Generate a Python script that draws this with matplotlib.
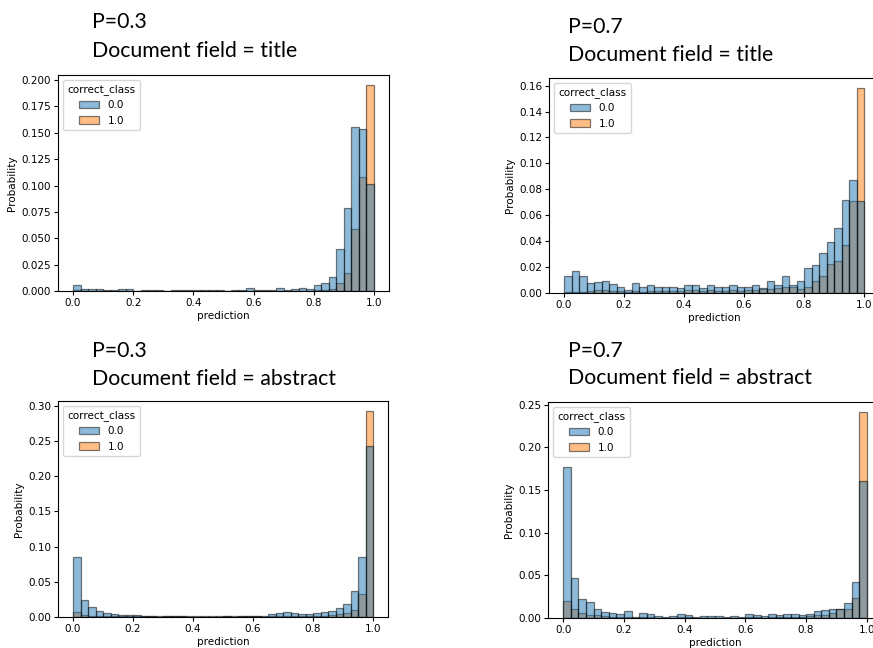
"""Four histograms of model predictions, split by correct_class."""
import matplotlib
matplotlib.use("Agg")
import matplotlib.pyplot as plt
import numpy as np
from matplotlib.patches import Patch

N_BINS = 40
hue_levels = ["0.0", "1.0"]

# P=0.3, title
p3_title_c0 = [0.006, 0.002, 0.002, 0.002, 0.001, 0.0006, 0.002, 0.0015, 0.0003, 0.0013,
               0.0006, 0.0006, 0.0, 0.0005, 0.0005, 0.0005, 0.0005, 0.0005, 0.0005, 0.0005,
               0.0, 0.0005, 0.0005, 0.003, 0.0013, 0.0005, 0.0013, 0.003, 0.001, 0.002,
               0.003, 0.002, 0.006, 0.008, 0.013, 0.040, 0.079, 0.155, 0.154, 0.101]
p3_title_c1 = [0.0005, 0.0002, 0.0002, 0.0002, 0.0001, 0.0001, 0.0002, 0.0001, 0.0, 0.0001,
               0.0001, 0.0001, 0.0, 0.0001, 0.0001, 0.0001, 0.0001, 0.0001, 0.0001, 0.0001,
               0.0, 0.0001, 0.0001, 0.0003, 0.0002, 0.0001, 0.0002, 0.0003, 0.0002, 0.0003,
               0.0004, 0.0004, 0.0008, 0.0010, 0.002, 0.0073, 0.017, 0.059, 0.108, 0.195]

# P=0.7, title
p7_title_c0 = [0.013, 0.017, 0.0135, 0.0075, 0.0085, 0.0095, 0.0067, 0.005, 0.002, 0.0075,
               0.0045, 0.006, 0.005, 0.005, 0.0045, 0.0035, 0.0065, 0.0065, 0.0035, 0.0065,
               0.005, 0.005, 0.006, 0.0045, 0.0045, 0.0065, 0.0035, 0.0095, 0.006, 0.0135,
               0.0065, 0.0095, 0.019, 0.0215, 0.031, 0.0395, 0.050, 0.072, 0.087, 0.071]
p7_title_c1 = [0.0005, 0.001, 0.001, 0.0015, 0.002, 0.002, 0.0015, 0.0015, 0.001, 0.0015,
               0.001, 0.0015, 0.0015, 0.0015, 0.0015, 0.0015, 0.002, 0.002, 0.0015, 0.002,
               0.0015, 0.0015, 0.002, 0.0015, 0.002, 0.002, 0.003, 0.003, 0.0035, 0.0045,
               0.0045, 0.003, 0.005, 0.0095, 0.0135, 0.022, 0.025, 0.037, 0.071, 0.158]

# P=0.3, abstract
p3_abs_c0 = [0.085, 0.024, 0.014, 0.008, 0.005, 0.004, 0.003, 0.0025, 0.0025, 0.002,
             0.002, 0.001, 0.002, 0.002, 0.002, 0.001, 0.001, 0.001, 0.001, 0.001,
             0.002, 0.001, 0.002, 0.002, 0.002, 0.001, 0.004, 0.005, 0.0065, 0.005,
             0.004, 0.004, 0.005, 0.0065, 0.008, 0.0125, 0.019, 0.037, 0.085, 0.243]
p3_abs_c1 = [0.007, 0.003, 0.002, 0.001, 0.001, 0.001, 0.001, 0.001, 0.001, 0.001,
             0.001, 0.0005, 0.001, 0.001, 0.001, 0.0005, 0.0005, 0.0005, 0.0005, 0.0005,
             0.001, 0.0005, 0.001, 0.001, 0.001, 0.0005, 0.001, 0.001, 0.001, 0.001,
             0.001, 0.001, 0.0015, 0.002, 0.003, 0.0045, 0.006, 0.0095, 0.033, 0.292]

# P=0.7, abstract
p7_abs_c0 = [0.177, 0.0465, 0.022, 0.0185, 0.0105, 0.007, 0.006, 0.0045, 0.008, 0.001,
             0.006, 0.0045, 0.0025, 0.001, 0.0025, 0.0045, 0.0035, 0.001, 0.002, 0.002,
             0.002, 0.001, 0.002, 0.001, 0.0045, 0.0035, 0.002, 0.0045, 0.0035, 0.0045,
             0.0045, 0.0035, 0.0045, 0.008, 0.009, 0.010, 0.011, 0.017, 0.042, 0.161]
p7_abs_c1 = [0.020, 0.010, 0.006, 0.004, 0.003, 0.002, 0.0015, 0.001, 0.001, 0.0005,
             0.001, 0.001, 0.0005, 0.0005, 0.0005, 0.001, 0.001, 0.0005, 0.0005, 0.0005,
             0.0005, 0.0005, 0.0005, 0.0005, 0.001, 0.001, 0.0005, 0.001, 0.001, 0.001,
             0.001, 0.001, 0.002, 0.0035, 0.004, 0.006, 0.0105, 0.011, 0.023, 0.241]

panel_titles = [
    ("P=0.3", "Document field = title"),
    ("P=0.7", "Document field = title"),
    ("P=0.3", "Document field = abstract"),
    ("P=0.7", "Document field = abstract"),
]
panel_data = [
    (p3_title_c0, p3_title_c1),
    (p7_title_c0, p7_title_c1),
    (p3_abs_c0, p3_abs_c1),
    (p7_abs_c0, p7_abs_c1),
]

W, H = 873, 648
# axes boxes in pixels: left, top, right, bottom
boxes = [(58, 75, 389, 291), (549, 78, 879, 293), (58, 401, 388, 617), (548, 402, 882, 618)]
# title anchor (left x, baseline line 1, baseline line 2)
title_pos = [(92, 28, 57), (568, 33, 61), (92, 357, 385), (568, 357, 384)]

C0 = "#1f77b4"
C1 = "#ff7f0e"

plt.rcParams["font.size"] = 7.5

fig = plt.figure(figsize=(W / 100, H / 100), dpi=100)
edges = np.linspace(0, 1, N_BINS + 1)

for (c0, c1), (l, t, r, b), (t1, t2), (tx, y1, y2) in zip(panel_data, boxes, panel_titles, title_pos):
    ax = fig.add_axes([l / W, 1 - b / H, (r - l) / W, (b - t) / H])
    # seaborn draws the last hue level first
    ax.bar(edges[:-1], c1, width=np.diff(edges), align="edge", color=C1,
           edgecolor="black", linewidth=0.9, alpha=0.5)
    ax.bar(edges[:-1], c0, width=np.diff(edges), align="edge", color=C0,
           edgecolor="black", linewidth=0.9, alpha=0.5)
    ax.set_xlabel("prediction", labelpad=2)
    ax.set_ylabel("Probability", labelpad=3)
    ax.tick_params(labelsize=7.5, length=3, pad=2)
    handles = [Patch(facecolor=c, edgecolor="black", alpha=0.5, linewidth=0.9) for c in (C0, C1)]
    ax.legend(handles, hue_levels, title="correct_class", loc="upper left",
              fontsize=7.5, title_fontsize=7.5)
    fig.text(tx / W, 1 - y1 / H, t1, fontsize=15.3, family="Lato", va="baseline")
    fig.text(tx / W, 1 - y2 / H, t2, fontsize=15.3, family="Lato", va="baseline")

fig.savefig("out.png", dpi=100)
